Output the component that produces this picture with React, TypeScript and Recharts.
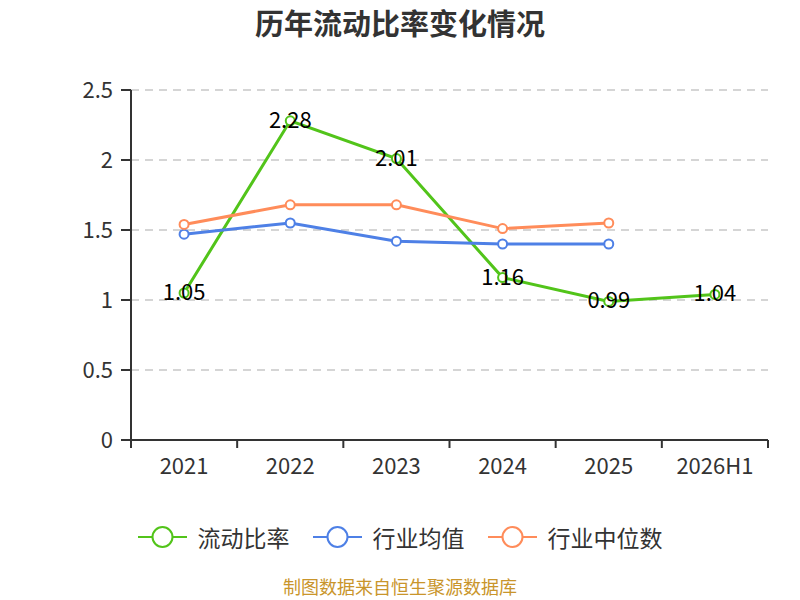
import { LineChart, Line, XAxis, YAxis, CartesianGrid, LabelList } from "recharts";

const years = ["2021", "2022", "2023", "2024", "2025", "2026H1"];
const currentRatio = [1.05, 2.28, 2.01, 1.16, 0.99, 1.04];
const industryMean = [1.47, 1.55, 1.42, 1.4, 1.4, null];
const industryMedian = [1.54, 1.68, 1.68, 1.51, 1.55, null];
const yTicks = [0, 0.5, 1, 1.5, 2, 2.5];

const data = years.map((year, i) => ({
  year,
  ratio: currentRatio[i],
  mean: industryMean[i],
  median: industryMedian[i],
}));

const W = 800;
const H = 600;
const margin = { top: 90, right: 32, bottom: 130, left: 0 };
const yAxisW = 131;
const bandW = (W - margin.left - margin.right - yAxisW) / years.length;

const FONT = "'Noto Sans CJK SC', 'Noto Sans', sans-serif";
const GREEN = "#52c41a";
const BLUE = "#4e80e6";
const ORANGE = "#ff8c5a";

const series = [
  { key: "ratio", name: "流动比率", color: GREEN },
  { key: "mean", name: "行业均值", color: BLUE },
  { key: "median", name: "行业中位数", color: ORANGE },
];

function XTick(props: any) {
  const { x, y, payload, index } = props;
  const last = index === years.length - 1;
  return (
    <g>
      <line x1={x - bandW / 2} y1={y - 8} x2={x - bandW / 2} y2={y} stroke="#333" strokeWidth={2} />
      {last && <line x1={x + bandW / 2} y1={y - 8} x2={x + bandW / 2} y2={y} stroke="#333" strokeWidth={2} />}
      <text x={x} y={y + 26} textAnchor="middle" fontSize={22} fill="#333" fontFamily={FONT}>
        {payload.value}
      </text>
    </g>
  );
}

function PointLabel(props: any) {
  const { x, y, value } = props;
  if (value == null) return null;
  return (
    <text x={x} y={y + 7} textAnchor="middle" fontSize={22} fill="#000" fontFamily={FONT}>
      {value}
    </text>
  );
}

export default function App() {
  return (
    <div style={{ position: "absolute", left: 0, top: 0, width: W, height: H, background: "#fff", fontFamily: FONT }}>
      <div style={{ position: "absolute", top: 0, width: W, textAlign: "center", fontSize: 29, lineHeight: "44px", fontWeight: "bold", color: "#333" }}>
        历年流动比率变化情况
      </div>
      <LineChart width={W} height={H} data={data} margin={margin}>
        <CartesianGrid vertical={false} stroke="#c8c8c8" strokeDasharray="8 6" strokeWidth={1.5} />
        <XAxis
          dataKey="year"
          tick={<XTick />}
          tickLine={false}
          axisLine={{ stroke: "#333", strokeWidth: 2 }}
          interval={0}
          height={30}
          padding={{ left: bandW / 2, right: bandW / 2 }}
        />
        <YAxis
          width={yAxisW}
          domain={[0, 2.5]}
          ticks={yTicks}
          interval={0}
          tickSize={10}
          tickMargin={8}
          tickLine={{ stroke: "#333", strokeWidth: 2 }}
          axisLine={{ stroke: "#333", strokeWidth: 2 }}
          tick={{ fontSize: 22, fill: "#333", fontFamily: FONT }}
        />
        {series.map((s) => (
          <Line
            key={s.key}
            dataKey={s.key}
            name={s.name}
            type="linear"
            stroke={s.color}
            strokeWidth={3}
            dot={{ r: 4.5, fill: "#fff", stroke: s.color, strokeWidth: 2 }}
            activeDot={false}
            isAnimationActive={false}
          >
            {s.key === "ratio" && <LabelList dataKey="ratio" content={<PointLabel />} />}
          </Line>
        ))}
      </LineChart>
      <div style={{ position: "absolute", top: 520, left: 0, width: W, display: "flex", justifyContent: "center", gap: 23 }}>
        {series.map((s) => (
          <div key={s.key} style={{ display: "flex", alignItems: "center", fontSize: 23, color: "#333" }}>
            <svg width={49} height={34} style={{ marginRight: 11 }}>
              <line x1={0} y1={17} x2={49} y2={17} stroke={s.color} strokeWidth={2} />
              <circle cx={24.5} cy={17} r={10} fill="#fff" stroke={s.color} strokeWidth={2} />
            </svg>
            <span>{s.name}</span>
          </div>
        ))}
      </div>
      <div style={{ position: "absolute", top: 573, width: W, textAlign: "center", fontSize: 18, lineHeight: "26px", color: "#c9952b" }}>
        制图数据来自恒生聚源数据库
      </div>
    </div>
  );
}
